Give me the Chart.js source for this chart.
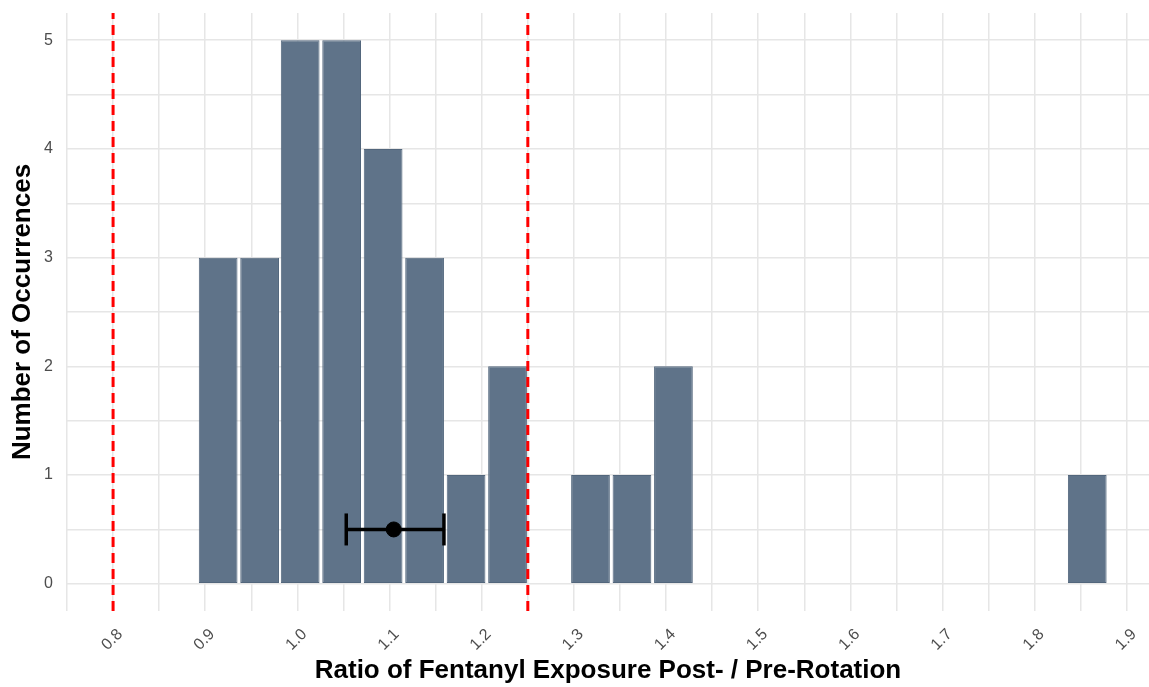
<!DOCTYPE html>
<html>
<head>
<meta charset="utf-8">
<script src="https://cdn.jsdelivr.net/npm/chart.js@4.4.1/dist/chart.umd.min.js"></script>
<style>
  html, body { margin: 0; padding: 0; background: #fff; }
  #wrap { width: 1149px; height: 687px; }
</style>
</head>
<body>
<div id="wrap"><canvas id="myChart" width="1149" height="687"></canvas></div>
<script>
// histogram bins (centre of each bin) and counts
const binCenters = [0.914, 0.959, 1.003, 1.048, 1.093, 1.138, 1.183, 1.228, 1.273, 1.318, 1.363,
                    1.408, 1.452, 1.497, 1.542, 1.587, 1.632, 1.677, 1.722, 1.767, 1.812, 1.857];
const counts = [3, 3, 5, 5, 4, 3, 1, 2, 0, 1, 1, 2, 0, 0, 0, 0, 0, 0, 0, 0, 0, 1];

// dashed red reference lines
const refLines = [0.8, 1.25];

// mean ratio with its interval
const meanRatio = 1.1045;
const ciLow = 1.053;
const ciHigh = 1.159;
const ciY = 0.5;

// axes
const xTickLabels = ['0.8', '0.9', '1.0', '1.1', '1.2', '1.3', '1.4', '1.5', '1.6', '1.7', '1.8', '1.9'];
const xGrid = [0.75, 0.8, 0.85, 0.9, 0.95, 1.0, 1.05, 1.1, 1.15, 1.2, 1.25, 1.3, 1.35, 1.4, 1.45,
               1.5, 1.55, 1.6, 1.65, 1.7, 1.75, 1.8, 1.85, 1.9];
const yTickLabels = ['0', '1', '2', '3', '4', '5'];
const yGrid = [0, 0.5, 1, 1.5, 2, 2.5, 3, 3.5, 4, 4.5, 5];

const xMin = 0.75, xMax = 1.924;
const yMin = -0.25, yMax = 5.25;

const fontFamily = '"Liberation Sans", Arial, sans-serif';
const gridColor = '#e6e6e6';
const tickColor = '#4d4d4d';

const barData = binCenters.map((x, i) => ({ x: x, y: counts[i] }));

const refDatasets = refLines.map(v => ({
    type: 'line',
    data: [{ x: v, y: yMin }, { x: v, y: yMax }],
    borderColor: '#ff0000',
    borderWidth: 3,
    borderDash: [10, 6],
    pointRadius: 0,
    order: 1
}));

const ctx = document.getElementById('myChart').getContext('2d');
new Chart(ctx, {
    type: 'bar',
    data: {
        datasets: [
            {
                data: barData,
                backgroundColor: '#5f7389',
                borderColor: '#52667c',
                borderWidth: (c) => (c.raw && c.raw.y > 0 ? 1 : 0),
                borderSkipped: false,
                barPercentage: 0.955,
                categoryPercentage: 1.0,
                order: 3
            },
            ...refDatasets,
            {
                // interval line with end caps
                type: 'scatter',
                data: [{ x: ciLow, y: ciY }, { x: ciHigh, y: ciY }],
                showLine: true,
                borderColor: '#000',
                borderWidth: 3.5,
                pointStyle: 'line',
                rotation: 90,
                pointRadius: 16,
                pointBorderWidth: 3.5,
                pointBorderColor: '#000',
                order: 0
            },
            {
                type: 'scatter',
                data: [{ x: meanRatio, y: ciY }],
                pointRadius: 7.5,
                pointBackgroundColor: '#000',
                pointBorderColor: '#000',
                order: 0
            }
        ]
    },
    options: {
        responsive: false,
        animation: false,
        layout: { autoPadding: false, padding: { top: 13, left: 0, right: 0, bottom: 0 } },
        scales: {
            x: {
                type: 'linear',
                offset: false,
                min: xMin,
                max: xMax,
                afterBuildTicks: (scale) => { scale.ticks = xGrid.map(v => ({ value: v })); },
                afterFit: (scale) => {
                    scale.height = 76;
                    scale.paddingLeft = 0;
                    scale.paddingRight = 0;
                },
                grid: { offset: false, color: gridColor, lineWidth: 1.5, drawTicks: false },
                border: { display: false },
                ticks: {
                    autoSkip: false,
                    minRotation: 45,
                    maxRotation: 45,
                    labelOffset: 7,
                    padding: 14,
                    color: tickColor,
                    font: { family: fontFamily, size: 16 },
                    callback: (value) => {
                        const lbl = xTickLabels.find(t => Math.abs(parseFloat(t) - value) < 1e-6);
                        return lbl || '';
                    }
                },
                title: {
                    display: true,
                    text: 'Ratio of Fentanyl Exposure Post- / Pre-Rotation',
                    color: '#000',
                    font: { family: fontFamily, size: 26, weight: 'bold' },
                    padding: { top: 0, bottom: 1 }
                }
            },
            y: {
                type: 'linear',
                min: yMin,
                max: yMax,
                afterBuildTicks: (scale) => { scale.ticks = yGrid.map(v => ({ value: v })); },
                afterFit: (scale) => {
                    scale.width = 67;
                    scale.paddingTop = 0;
                    scale.paddingBottom = 0;
                },
                grid: { color: gridColor, lineWidth: 1.5, drawTicks: false },
                border: { display: false },
                ticks: {
                    autoSkip: false,
                    padding: 14,
                    color: tickColor,
                    font: { family: fontFamily, size: 16 },
                    callback: (value) => {
                        const lbl = yTickLabels.find(t => Math.abs(parseFloat(t) - value) < 1e-6);
                        return lbl || '';
                    }
                },
                title: {
                    display: true,
                    text: 'Number of Occurrences',
                    color: '#000',
                    font: { family: fontFamily, size: 26, weight: 'bold' },
                    padding: { top: 7, bottom: 0 }
                }
            }
        },
        plugins: {
            legend: { display: false },
            tooltip: { enabled: false }
        }
    }
});
</script>
</body>
</html>
